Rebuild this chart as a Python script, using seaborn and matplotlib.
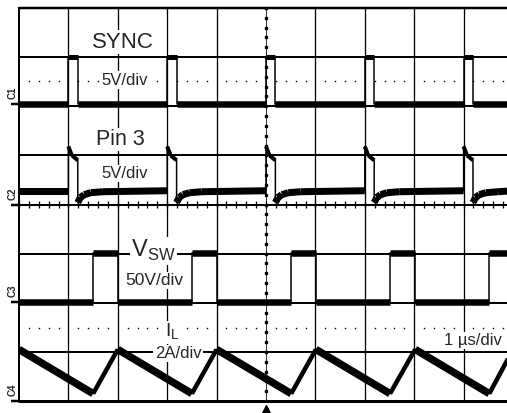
import numpy as np
import pandas as pd
import matplotlib
matplotlib.use("Agg")
import matplotlib.pyplot as plt
import seaborn as sns

# ---------------- data (time in µs, 1 µs/div) -------------
sync_t = [0.0, 1.0, 1.0, 1.19, 1.19, 3.0, 3.0, 3.19, 3.19, 5.0, 5.0, 5.19, 5.19,
          7.0, 7.0, 7.19, 7.19, 9.0, 9.0, 9.19, 9.19, 10.0]
sync_v = [0.0, 0.0, 4.8, 4.8, 0.0, 0.0, 4.8, 4.8, 0.0, 0.0, 4.8, 4.8, 0.0,
          0.0, 4.8, 4.8, 0.0, 0.0, 4.8, 4.8, 0.0, 0.0]

pin3_t = [0.0,
          1.0, 1.0, 1.07, 1.19, 1.19, 1.24, 1.32, 1.45, 1.7,
          3.0, 3.0, 3.07, 3.19, 3.19, 3.24, 3.32, 3.45, 3.7,
          5.0, 5.0, 5.07, 5.19, 5.19, 5.24, 5.32, 5.45, 5.7,
          7.0, 7.0, 7.07, 7.19, 7.19, 7.24, 7.32, 7.45, 7.7,
          9.0, 9.0, 9.07, 9.19, 9.19, 9.24, 9.32, 9.45, 9.7,
          10.0]
pin3_v = [1.4,
          1.4, 5.9, 5.0, 4.5, 0.2, 0.7, 1.0, 1.2, 1.3,
          1.4, 5.9, 5.0, 4.5, 0.2, 0.7, 1.0, 1.2, 1.3,
          1.4, 5.9, 5.0, 4.5, 0.2, 0.7, 1.0, 1.2, 1.3,
          1.4, 5.9, 5.0, 4.5, 0.2, 0.7, 1.0, 1.2, 1.3,
          1.4, 5.9, 5.0, 4.5, 0.2, 0.7, 1.0, 1.2, 1.3,
          1.4]

vsw_t = [0.0, 1.5, 1.5, 2.0, 2.0, 3.5, 3.5, 4.0, 4.0, 5.51, 5.51, 6.01, 6.01,
         7.51, 7.51, 8.02, 8.02, 9.52, 9.52, 10.0]
vsw_v = [0.0, 0.0, 50.0, 50.0, 0.0, 0.0, 50.0, 50.0, 0.0, 0.0, 50.0, 50.0, 0.0,
         0.0, 50.0, 50.0, 0.0, 0.0, 50.0, 50.0]

il_t = [0.0, 1.5, 2.0, 3.5, 4.0, 5.51, 6.01, 7.51, 8.02, 9.52, 10.0]
il_a = [2.1, 0.3, 2.1, 0.3, 2.1, 0.3, 2.1, 0.3, 2.1, 0.3, 2.1]

channel_names = ["C1", "C2", "C3", "C4"]
sync_label, pin3_label = "SYNC", "Pin 3"
vsw_label, il_label = r"V$_\mathregular{SW}$", r"I$_\mathregular{L}$"
scale_labels = ["5V/div", "5V/div", "50V/div", "2A/div"]
time_label = "1 µs/div"

# ---------------- scope settings (positions / scales) ----------------
offsets = [6.05, 4.0, 2.02, 0.0]        # ground level of each channel, in divisions
scales = [5.0, 5.0, 50.0, 2.0]          # units per division
# noise band widths (px): (low level / falling, high level / rising)
bands = [(6.5, 5.0), (7.0, 4.0), (6.5, 6.5), (7.5, 4.5)]

sns.set_theme(style="white")
plt.rcParams["font.family"] = ["Liberation Sans", "DejaVu Sans"]
plt.rcParams["mathtext.fontset"] = "custom"
plt.rcParams["mathtext.rm"] = "Liberation Sans"

W, H = 507, 413
fig = plt.figure(figsize=(W / 100, H / 100), dpi=100)
fig.patch.set_facecolor("white")
ax = fig.add_axes([19 / W, 12 / H, 494 / W, 393 / H])

PX = 72 / 100  # points per pixel

# graticule
for i in range(1, 10):
    if i == 5:
        continue
    ax.axvline(i, color="black", lw=1.3 * PX, zorder=1)
for j in range(1, 8):
    ax.axhline(j, color="black", lw=2.0 * PX, zorder=1)
ax.axhline(8, color="black", lw=2.5 * PX, zorder=1, clip_on=False)
ax.axhline(0, color="black", lw=3.0 * PX, zorder=1, clip_on=False)
ax.axvline(0, color="black", lw=2.0 * PX, zorder=1, clip_on=False)

# center vertical dotted line and center horizontal ticks
ticks = np.arange(0, 10.01, 0.2)
ax.axvline(5, color="black", lw=0.8 * PX, zorder=1)
ax.plot(np.full(41, 5.0), np.arange(0, 8.01, 0.2), ls="none", marker="s",
        ms=2.6 * PX, color="black", zorder=1)
ax.vlines(ticks, 4 - 0.08, 4 + 0.08, color="black", lw=1.3 * PX, zorder=1)

# dotted reference rows
dots_x = np.array([i + f for i in range(10) for f in (0.2, 0.4, 0.6, 0.8)])
for yy in (6.52, 1.49):
    ax.plot(dots_x, np.full(len(dots_x), yy), ls="none", marker="s",
            ms=1.4 * PX, color="black", mew=0, zorder=1)

# traces
traces = [(sync_t, sync_v), (pin3_t, pin3_v), (vsw_t, vsw_v), (il_t, il_a)]
for k, (t, v) in enumerate(traces):
    y = offsets[k] + np.asarray(v) / scales[k]
    df = pd.DataFrame({"t": t, "y": y})
    sns.lineplot(data=df, x="t", y="y", ax=ax, estimator=None, sort=False,
                 color="black", lw=1.5 * PX, zorder=3, legend=False)
    half = offsets[k] + 0.5 * (max(v) / scales[k])
    for i in range(len(t) - 1):
        if t[i + 1] > t[i]:
            if k == 3:
                w = bands[k][0] if y[i + 1] < y[i] else bands[k][1]
            else:
                w = bands[k][1] if min(y[i], y[i + 1]) > half else bands[k][0]
            ax.plot([t[i], t[i + 1]], [y[i], y[i + 1]], color="black",
                    lw=w * PX, solid_capstyle="butt", zorder=3)
ax.set_xlim(0, 10)
ax.set_ylim(0, 8)
ax.set_axis_off()

# labels
box = dict(facecolor="white", edgecolor="none", pad=1.0)
ax.text(2.095, 7.19, sync_label, fontsize=16, ha="center", va="baseline", bbox=box, zorder=5)
ax.text(2.135, 6.44, scale_labels[0], fontsize=12, ha="center", va="baseline", bbox=box, zorder=5)
ax.text(2.045, 5.21, pin3_label, fontsize=15.5, ha="center", va="baseline", bbox=box, zorder=5)
ax.text(2.135, 4.54, scale_labels[1], fontsize=12, ha="center", va="baseline", bbox=box, zorder=5)
ax.text(2.72, 2.93, vsw_label, fontsize=17, ha="center", va="baseline", bbox=box, zorder=5)
ax.text(2.74, 2.36, scale_labels[2], fontsize=12.5, ha="center", va="baseline", bbox=box, zorder=5)
ax.text(3.11, 1.30, il_label, fontsize=14, ha="center", va="baseline", bbox=box, zorder=5)
ax.text(3.22, 0.876, scale_labels[3], fontsize=12, ha="center", va="baseline", bbox=box, zorder=5)
ax.text(9.18, 1.14, time_label, fontsize=12, ha="center", va="baseline", bbox=box, zorder=5)

# channel ground markers
for k, name in enumerate(channel_names):
    g = offsets[k]
    ax.plot([-0.17, 0.0], [g, g], color="black", lw=2.5 * PX, clip_on=False,
            solid_capstyle="butt", zorder=4)
    ax.text(-0.12, g + 0.22, name, fontsize=7, fontweight="bold", rotation=90,
            ha="center", va="center", clip_on=False, zorder=4)

# trigger marker
ax.plot([5.0], [-0.16], marker="^", ms=5.5, color="black", clip_on=False, zorder=4)

fig.savefig("out.png", dpi=100, facecolor="white")
